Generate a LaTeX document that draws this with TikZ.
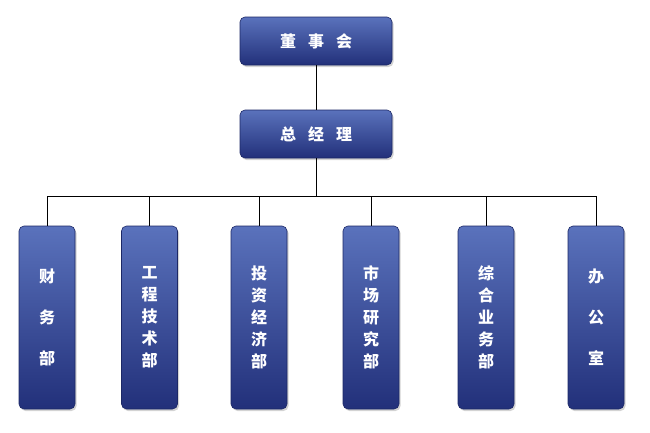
\documentclass[tikz,border=0pt]{standalone}
\usepackage{fontspec}
\usepackage{xcolor}
\usepackage{tikz}
\usetikzlibrary{shadows}
\newfontfamily\cjk{Noto Sans CJK SC}[BoldFont={Noto Sans CJK SC Black}]
\definecolor{boxtop}{HTML}{5A72BC}
\definecolor{boxbot}{HTML}{22307A}
\definecolor{boxline}{HTML}{1C2866}

\begin{document}
\begin{tikzpicture}[x=1pt,y=-1pt,
  box node/.style={draw=boxline,line width=0.6pt,rounded corners=5pt,top color=boxtop,bottom color=boxbot,
    drop shadow={shadow xshift=1.5pt,shadow yshift=-2pt,opacity=0.35},text=white,inner sep=0pt},
  head node/.style={box node,minimum width=152pt,minimum height=48pt,font=\cjk\bfseries\fontsize{16}{18}\selectfont},
  dept node/.style={box node,minimum width=56pt,minimum height=183pt,align=center,font=\cjk\bfseries\fontsize{16}{22}\selectfont},
  wide dept/.style={dept node,font=\cjk\bfseries\fontsize{16}{41}\selectfont}]
        \useasboundingbox (0,0) rectangle (650,432);
        \node[head node] (board) at (316,41) {董\hspace{12pt}事\hspace{12pt}会};
        \node[head node] (gm) at (316,134) {总\hspace{12pt}经\hspace{12pt}理};
        \coordinate (bus) at (316,196);
        \node[wide dept] (d1) at (47,317.5) {财\\务\\部};
        \node[dept node] (d2) at (149.5,317.5) {工\\程\\技\\术\\部};
        \node[dept node] (d3) at (259,317.5) {投\\资\\经\\济\\部};
        \node[dept node] (d4) at (371,317.5) {市\\场\\研\\究\\部};
        \node[dept node] (d5) at (486,317.5) {综\\合\\业\\务\\部};
        \node[wide dept] (d6) at (596,317.5) {办\\公\\室};
        \draw (board) -- (gm);
        \draw (gm) -- (bus);
        \foreach \d in {d1,d2,d3,d4,d5,d6}
          \draw (bus) -| (\d);
      \end{tikzpicture}
\end{document}
